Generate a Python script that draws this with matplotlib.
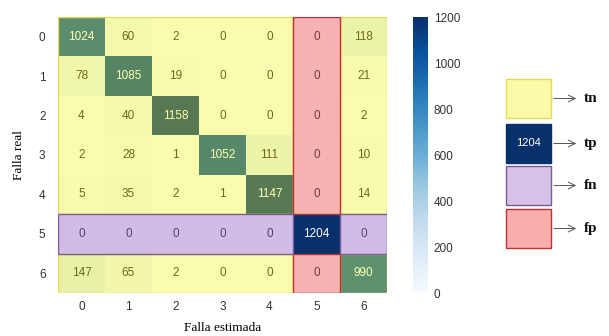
import numpy as np
import matplotlib
matplotlib.use("Agg")
import matplotlib.pyplot as plt
from matplotlib.patches import Rectangle

classes = ["0", "1", "2", "3", "4", "5", "6"]
cm = np.array([
    [1024, 60, 2, 0, 0, 0, 118],
    [78, 1085, 19, 0, 0, 0, 21],
    [4, 40, 1158, 0, 0, 0, 2],
    [2, 28, 1, 1052, 111, 0, 10],
    [5, 35, 2, 1, 1147, 0, 14],
    [0, 0, 0, 0, 0, 1204, 0],
    [147, 65, 2, 0, 0, 0, 990],
])
cbar_ticks = [0, 200, 400, 600, 800, 1000, 1200]
legend_labels = ["tn", "tp", "fn", "fp"]
xlabel = "Falla estimada"
ylabel = "Falla real"

W, H = 609, 336
fig = plt.figure(figsize=(W / 100, H / 100), dpi=100)

def px(x0, y0, x1, y1):
    return [x0 / W, 1 - y1 / H, (x1 - x0) / W, (y1 - y0) / H]

ax = fig.add_axes(px(58, 17, 387, 293))
cax = fig.add_axes(px(413, 17, 428, 293))

n = len(classes)
vmax = cm.max()
cmap = plt.get_cmap("Blues")
mesh = ax.pcolormesh(np.arange(n + 1), np.arange(n + 1), cm, cmap=cmap,
                     vmin=0, vmax=vmax, zorder=1)
ax.set_xlim(0, n)
ax.set_ylim(n, 0)

sans = ["Liberation Sans", "DejaVu Sans"]
serif = ["Liberation Serif", "DejaVu Serif"]
for i in range(n):
    for j in range(n):
        v = cm[i, j]
        col = "white" if v > vmax * 0.6 else "#262626"
        ax.text(j + 0.5, i + 0.5, str(v), ha="center", va="center",
                fontsize=8.5, color=col, family=sans, zorder=2)

# overlays
yellow_fc = (1.0, 1.0, 0.0, 0.32)
yellow_ec = "#e6dc50"
purple_fc = (0.62, 0.40, 0.80, 0.42)
purple_ec = "#7a5a9a"
pink_fc = (0.97, 0.30, 0.30, 0.42)
pink_ec = "#c03030"
k = 5  # class of interest
regions = [
    (0, 0, k, k, yellow_fc, yellow_ec),
    (k + 1, 0, n - k - 1, k, yellow_fc, yellow_ec),
    (0, k + 1, k, n - k - 1, yellow_fc, yellow_ec),
    (k + 1, k + 1, n - k - 1, n - k - 1, yellow_fc, yellow_ec),
    (k, 0, 1, k, pink_fc, pink_ec),
    (k, k + 1, 1, n - k - 1, pink_fc, pink_ec),
    (0, k, k, 1, purple_fc, purple_ec),
    (k + 1, k, n - k - 1, 1, purple_fc, purple_ec),
]
for x0, y0, w, h, fc, ec in regions:
    ax.add_patch(Rectangle((x0, y0), w, h, facecolor=fc, edgecolor="none", zorder=3))
    ax.add_patch(Rectangle((x0, y0), w, h, facecolor="none", edgecolor=ec,
                           linewidth=1.0, zorder=4))

ax.set_xticks(np.arange(n) + 0.5)
ax.set_yticks(np.arange(n) + 0.5)
ax.set_xticklabels(classes, family=sans, fontsize=8.5, color="#333333")
ax.set_yticklabels(classes, family=sans, fontsize=8.5, color="#333333", rotation=0)
ax.tick_params(axis="x", length=0, pad=6)
ax.tick_params(axis="y", length=0, pad=9)
for s in ax.spines.values():
    s.set_visible(False)
ax.set_xlabel(xlabel, family=serif, fontsize=9.5, labelpad=6)
ax.set_ylabel(ylabel, family=serif, fontsize=9.5, labelpad=10)

cb = fig.colorbar(mesh, cax=cax)
cb.outline.set_visible(False)
cb.set_ticks(cbar_ticks)
cax.tick_params(length=0, pad=4, labelsize=8.5, labelcolor="#333333")
for lab in cax.get_yticklabels():
    lab.set_family(sans)

# legend schematic
lax = fig.add_axes([0, 0, 1, 1])
lax.set_xlim(0, W)
lax.set_ylim(H, 0)
lax.axis("off")
tp_color = cmap(1.0)
boxes = [
    (79, (0.98, 0.98, 0.66), yellow_ec),
    (124, tp_color, tp_color),
    (166, (0.84, 0.76, 0.90), purple_ec),
    (209, (0.98, 0.68, 0.68), pink_ec),
]
for (y0, fc, ec), lab in zip(boxes, legend_labels):
    lax.add_patch(Rectangle((506, y0), 45, 39, facecolor=fc, edgecolor=ec, linewidth=1))
    yc = y0 + 19.5
    lax.annotate("", xy=(579, yc), xytext=(551, yc),
                 arrowprops=dict(arrowstyle="->,head_length=0.5,head_width=0.25",
                                 color="#555555", lw=0.7))
    lax.text(584, yc, lab, ha="left", va="center", family=serif,
             fontsize=11, fontweight="bold", color="#111111")
lax.text(528.5, 124 + 19.5, str(vmax), ha="center", va="center", color="white",
         fontsize=8, family=sans)

fig.savefig("out.png", dpi=100)
